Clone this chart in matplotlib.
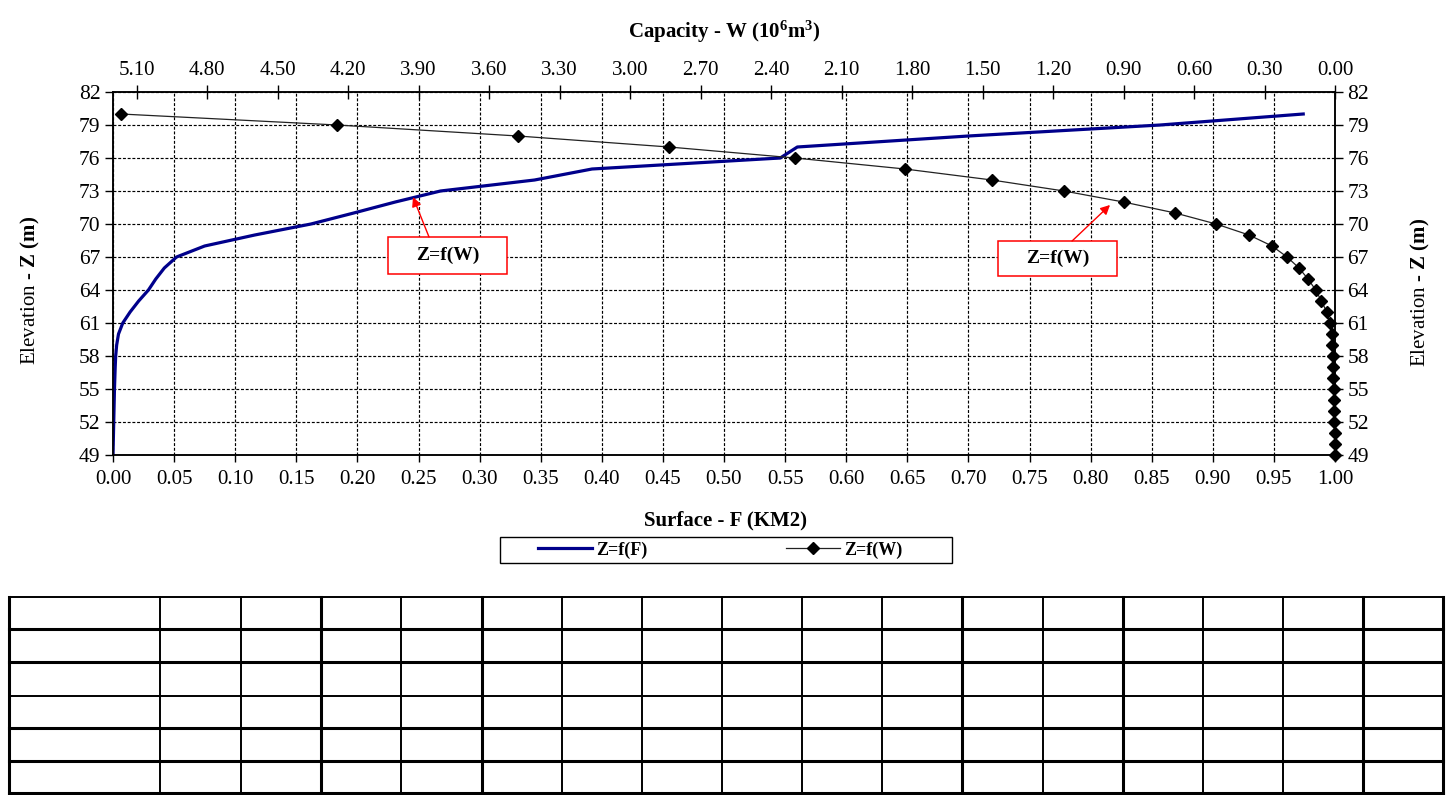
import numpy as np
import matplotlib.pyplot as plt
from matplotlib.lines import Line2D
from matplotlib.patches import Rectangle

plt.rcParams['font.family'] = ['Liberation Serif', 'DejaVu Serif']
plt.rcParams['mathtext.fontset'] = 'custom'
plt.rcParams['mathtext.rm'] = 'Liberation Serif:bold'
plt.rcParams['mathtext.bf'] = 'Liberation Serif:bold'
plt.rcParams['mathtext.it'] = 'Liberation Serif:bold:italic'

# elevation Z (m)
elevation = [49, 50, 51, 52, 53, 54, 55, 56, 57, 58, 59, 60, 61, 62, 63, 64,
             65, 66, 67, 68, 69, 70, 71, 72, 73, 74, 75, 76, 77, 78, 79, 80]
# surface F (km2), bottom axis
surface = [0.000, 0.0002, 0.0004, 0.0006, 0.0008, 0.001, 0.0012, 0.0015,
           0.0018, 0.0022, 0.003, 0.0045, 0.008, 0.014, 0.021, 0.029,
           0.035, 0.042, 0.052, 0.075, 0.116, 0.162, 0.197, 0.231,
           0.268, 0.345, 0.392, 0.546, 0.560, 0.700, 0.857, 0.974]
# capacity W (10^6 m3), top axis (reversed)
capacity = [0.000, 0.001, 0.002, 0.003, 0.004, 0.005, 0.006, 0.007,
            0.008, 0.009, 0.011, 0.014, 0.022, 0.035, 0.058, 0.082,
            0.115, 0.153, 0.204, 0.268, 0.366, 0.506, 0.680, 0.900,
            1.153, 1.460, 1.830, 2.298, 2.834, 3.477, 4.247, 5.166]

surface_ticks = np.arange(0, 1.0001, 0.05)
capacity_ticks = np.arange(0, 5.101, 0.30)
elevation_ticks = list(range(49, 83, 3))

W, H = 1453, 795
def fx(px):
    return px / W
def fy(py):
    return 1 - py / H

fig = plt.figure(figsize=(W / 100, H / 100), dpi=100)
ax = fig.add_axes([fx(113), fy(455), (1335 - 113) / W, (455 - 92) / H])

ax.plot(surface, elevation, color='#00008B', lw=2.3, zorder=3, label='Z=f(F)')
ax.set_xlim(0, 1)
ax.set_ylim(49, 82)
ax.set_xticks(surface_ticks)
ax.set_xticklabels(['%.2f' % t for t in surface_ticks])
ax.set_yticks(elevation_ticks)
ax.grid(True, color='black', ls=(0, (2.5, 1.5)), lw=0.85)
ax.tick_params(axis='y', left=True, right=True, labelleft=True, labelright=True,
               direction='out', length=6, width=1, labelsize=15.5, pad=3)
ax.tick_params(axis='x', top=False, direction='out', length=5, width=1,
               labelsize=15, pad=6)
for s in ax.spines.values():
    s.set_linewidth(1.1)
    s.set_color('black')

ax2 = ax.twiny()
ax2.plot(capacity, elevation, color='#222222', lw=0.9, marker='D', ms=6.3,
         mfc='black', mec='black', clip_on=False, zorder=4, label='Z=f(W)')
ax2.set_xlim(5.2, 0)
ax2.set_xticks(capacity_ticks)
ax2.set_xticklabels(['%.2f' % t for t in capacity_ticks])
ax2.tick_params(axis='x', direction='inout', length=10, width=1, labelsize=15, pad=4)
for s in ax2.spines.values():
    s.set_linewidth(1.1)

# axis titles
fig.text(fx(724), fy(32), 'Capacity - W (10$^{6}$m$^{3}$)', fontsize=15,
         fontweight='bold', ha='center', va='center')
fig.text(fx(726), fy(520), 'Surface - F (KM2)', fontsize=15,
         fontweight='bold', ha='center', va='center')
fig.text(fx(30), fy(290), r'Elevation - $\mathrm{Z\ (m)}$', fontsize=15,
         rotation=90, ha='center', va='center')
fig.text(fx(1420), fy(292), r'Elevation - $\mathrm{Z\ (m)}$', fontsize=15,
         rotation=90, ha='center', va='center')

# red callouts
callouts = [
    # box x0, width, y0, height, arrow start, arrow tip
    (0.225, 0.0975, 65.45, 3.37, (0.2586, 68.82), (0.2455, 72.45)),
    (0.7242, 0.0974, 65.27, 3.18, (0.7848, 68.45), (0.8159, 71.73)),
]
for x0, w, y0, h, start, tip in callouts:
    ax.add_patch(Rectangle((x0, y0), w, h, fc='white', ec='red', lw=1.1, zorder=6))
    ax.text(x0 + w / 2, y0 + h / 2, 'Z=f(W)', fontsize=14, fontweight='bold',
            ha='center', va='center', zorder=7)
    ax.annotate('', xy=tip, xytext=start, zorder=7,
                arrowprops=dict(arrowstyle='-|>', color='red', lw=1.0,
                                mutation_scale=14, shrinkA=0, shrinkB=0))

# legend (frame drawn separately so the entries can sit inside a wide box)
fig.add_artist(Rectangle((fx(500), fy(563)), 452 / W, 26 / H, fill=False,
                         ec='black', lw=1.0, transform=fig.transFigure))
handles = [Line2D([], [], color='#00008B', lw=2.3),
           Line2D([], [], color='#222222', lw=0.9, marker='D', ms=6.3, mfc='black', mec='black')]
leg = fig.legend(handles, ['Z=f(F)', 'Z=f(W)'], loc='center',
                 bbox_to_anchor=(fx(720), fy(550)), ncol=2, frameon=False,
                 handlelength=3.0, columnspacing=7.7, borderpad=0.1,
                 handletextpad=0.2,
                 prop={'family': 'Liberation Serif', 'weight': 'bold', 'size': 13})

# empty table below the chart
col_edges = [9, 160, 241, 321, 401, 482, 562, 642, 722, 802, 882, 962,
             1043, 1123, 1203, 1283, 1363, 1443]
thick_cols = [9, 321, 482, 962, 1123, 1363, 1443]
row_edges = [597, 629, 662, 696, 728, 761, 793]
thick_rows = [629, 662, 728, 761, 793]
for y in row_edges:
    fig.add_artist(Line2D([fx(col_edges[0]), fx(col_edges[-1])], [fy(y), fy(y)],
                          color='black', lw=2.2 if y in thick_rows else 1.4))
for x in col_edges:
    fig.add_artist(Line2D([fx(x), fx(x)], [fy(row_edges[0]), fy(row_edges[-1])],
                          color='black', lw=2.2 if x in thick_cols else 1.4))

fig.savefig('out.png', dpi=100)
